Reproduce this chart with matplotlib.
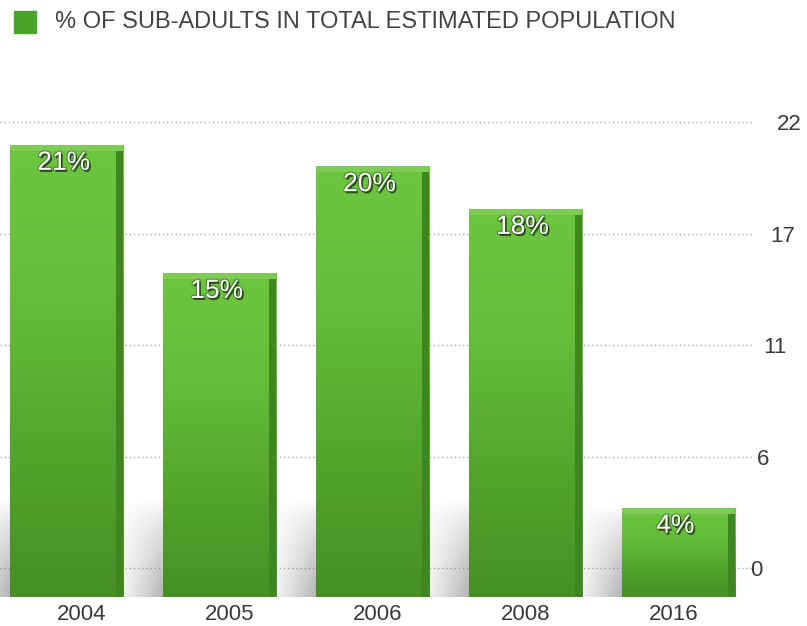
import matplotlib
matplotlib.use("Agg")
import matplotlib.pyplot as plt
import matplotlib.patheffects as pe
import matplotlib.transforms as mtransforms
import numpy as np
from matplotlib.colors import LinearSegmentedColormap

years = ["2004", "2005", "2006", "2008", "2016"]
values = [21, 15, 20, 18, 4]
labels = ["21%", "15%", "20%", "18%", "4%"]
yticks = [0, 5.5, 11, 16.5, 22]
ytick_labels = ["0", "6", "11", "17", "22"]
legend_label = "% OF SUB-ADULTS IN TOTAL ESTIMATED POPULATION"

plt.rcParams['font.family'] = ['Liberation Sans', 'DejaVu Sans']

W, H = 807, 626
fig = plt.figure(figsize=(W / 100, H / 100), dpi=100)
rect = [0.0, 26 / H, 755 / W, 500 / H]

# grid / tick axes
ax = fig.add_axes(rect)
x = np.arange(len(years))
ax.set_xlim(-82 / 148, (755 - 82) / 148)
ax.set_ylim(-32 / 20.27, 468 / 20.27)
ax.set_xticks(x)
ax.set_xticklabels(years, fontsize=16, color="#3a3a3a")
ax.tick_params(axis="x", length=0, pad=3)
ax.yaxis.tick_right()
ax.set_yticks(yticks)
ax.set_yticklabels(ytick_labels, fontsize=16, color="#3a3a3a")
ax.tick_params(axis="y", length=0, pad=0)
for t, v in zip(ax.get_yticklabels(), yticks):
    t.set_ha("left")
    dx = (750 + 1.23 * v - 755) / 100
    t.set_transform(t.get_transform() + mtransforms.ScaledTranslation(dx, 0, fig.dpi_scale_trans))
ax.grid(axis="y", color="#a8a8a8", linestyle=(0, (1, 2)), linewidth=1, zorder=0)
ax.grid(axis="x", visible=False)
for s in ax.spines.values():
    s.set_visible(False)
ax.patch.set_visible(False)

# bar axes (perspective-shifted scale)
bx = fig.add_axes(rect)
bx.set_xlim(-66.8 / 152.9, (755 - 66.8) / 152.9)
ymin = -7 / 21.35
bx.set_ylim(ymin, 493 / 21.35)
bx.axis("off")
bx.patch.set_visible(False)

cmap = LinearSegmentedColormap.from_list("g", ["#468f25", "#53a62d", "#65bd3a", "#6dc63f"])
width = 0.74
bottom = -0.2
bars = bx.bar(x, [v - bottom for v in values], bottom=bottom, width=width,
              color="#55ad2e", edgecolor="none", zorder=3)
for b, v, lab in zip(bars, values, labels):
    x0, y0 = b.get_x(), b.get_y()
    w, h = b.get_width(), b.get_height()
    # soft shadow to the left
    sh = np.zeros((64, 64, 4))
    gx = np.linspace(0, 1, 64)[None, :]
    gy = np.linspace(1, 0, 64)[:, None]
    sh[..., 0:3] = 0.42
    sh[..., 3] = 0.55 * gx ** 1.3 * np.clip(1 - gy, 0, 1) ** 0.7
    bx.imshow(sh, extent=[x0 - 0.35, x0 + 0.02, y0, min(y0 + 4.5, y0 + h)],
              origin="upper", aspect="auto", zorder=2, interpolation="bilinear")
    grad = np.linspace(0, 1, 256).reshape(-1, 1)
    im = bx.imshow(grad, extent=[x0, x0 + w, y0, y0 + h], origin="lower",
                   cmap=cmap, aspect="auto", zorder=3)
    im.set_clip_path(b)
    # right side face
    bx.bar(x0 + w - 0.045, h - 0.3, bottom=y0, width=0.045, align="edge",
           color="#3f8520", zorder=4, edgecolor="none")
    # top face
    bx.bar(x0, 0.3, bottom=y0 + h - 0.3, width=w, align="edge",
           color="#7fcc55", zorder=4, edgecolor="none")
    bx.text(x0 + w / 2 - 0.02, v - 0.85, lab, ha="center", va="center", color="white",
            fontsize=19, zorder=6,
            path_effects=[pe.Stroke(linewidth=1.6, foreground="#2f5a1c", alpha=0.6),
                          pe.withSimplePatchShadow(offset=(1.2, -1.5), shadow_rgbFace="#1f3314", alpha=0.8)])

fig.patches.append(plt.Rectangle((14 / W, 1 - 33 / H), 22 / W, 22 / H,
                                 transform=fig.transFigure, color="#4aa52a", figure=fig))
fig.text(55 / W, 1 - 22 / H, legend_label, fontsize=17, color="#444444", va="center")

fig.savefig("out.png", dpi=100)
